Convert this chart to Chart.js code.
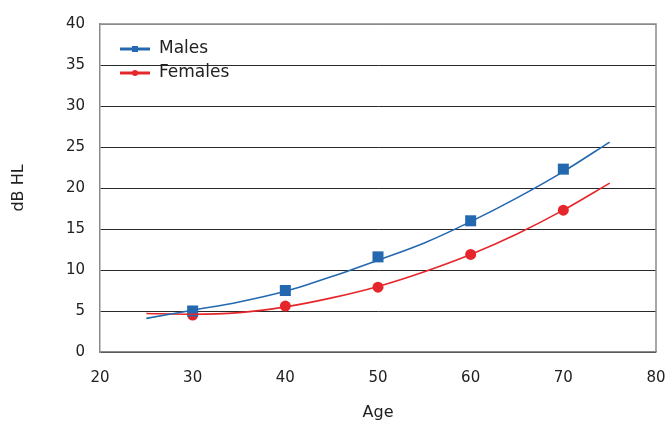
<!DOCTYPE html>
<html>
<head>
<meta charset="utf-8">
<script src="https://cdn.jsdelivr.net/npm/chart.js@4"></script>
<style>
  body { margin: 0; background: #fff; }
  #wrap { width: 671px; height: 433px; }
</style>
</head>
<body>
<div id="wrap"><canvas id="hearingChart" width="671" height="433"></canvas></div>
<script>
// measured points
const ages = [30, 40, 50, 60, 70];
const malesData = [5.0, 7.5, 11.6, 16.0, 22.3];
const femalesData = [4.5, 5.6, 7.9, 11.9, 17.3];

// fitted curves
const fitAges = [25, 30, 35, 40, 45, 50, 55, 60, 65, 70, 75];
const malesFit = [4.1, 5.1, 6.1, 7.4, 9.2, 11.2, 13.3, 15.9, 18.8, 22.0, 25.6];
const femalesFit = [4.7, 4.6, 4.8, 5.5, 6.6, 8.0, 9.8, 11.9, 14.4, 17.3, 20.6];

const yTicks = [0, 5, 10, 15, 20, 25, 30, 35, 40];
const xTicks = [20, 30, 40, 50, 60, 70, 80];

const BLUE = '#2468b0';
const RED = '#e5262b';
const FONT = "'DejaVu Sans', sans-serif";

const toXY = (xs, ys) => xs.map((x, i) => ({ x: x, y: ys[i] }));

// gray frame on top and right of the plot area
const framePlugin = {
    id: 'frame',
    afterDraw(chart) {
        const { ctx, chartArea: a } = chart;
        ctx.save();
        ctx.strokeStyle = '#8a8a8a';
        ctx.lineWidth = 1.5;
        ctx.beginPath();
        ctx.moveTo(a.left, a.top);
        ctx.lineTo(a.right, a.top);
        ctx.lineTo(a.right, a.bottom);
        ctx.stroke();
        ctx.restore();
    }
};

// legend sitting inside the plot, top left
const insideLegend = {
    id: 'insideLegend',
    afterDraw(chart) {
        const ctx = chart.ctx;
        const items = [
            { label: 'Males', color: BLUE, shape: 'rect', y: 49 },
            { label: 'Females', color: RED, shape: 'circle', y: 73 }
        ];
        ctx.save();
        items.forEach(it => {
            ctx.strokeStyle = it.color;
            ctx.fillStyle = it.color;
            ctx.lineWidth = 3;
            ctx.beginPath();
            ctx.moveTo(120, it.y);
            ctx.lineTo(150, it.y);
            ctx.stroke();
            if (it.shape === 'rect') {
                ctx.fillRect(132, it.y - 3, 6, 6);
            } else {
                ctx.beginPath();
                ctx.arc(135, it.y, 3, 0, Math.PI * 2);
                ctx.fill();
            }
            ctx.fillStyle = '#222';
            ctx.font = '17px ' + FONT;
            ctx.textBaseline = 'middle';
            ctx.fillText(it.label, 159, it.y);
        });
        ctx.restore();
    }
};

new Chart(document.getElementById('hearingChart'), {
    type: 'scatter',
    data: {
        datasets: [
            {
                label: 'Males fit',
                data: toXY(fitAges, malesFit),
                showLine: true,
                borderColor: BLUE,
                borderWidth: 1.6,
                pointRadius: 0,
                tension: 0.4,
                cubicInterpolationMode: 'monotone'
            },
            {
                label: 'Females fit',
                data: toXY(fitAges, femalesFit),
                showLine: true,
                borderColor: RED,
                borderWidth: 1.6,
                pointRadius: 0,
                tension: 0.4,
                cubicInterpolationMode: 'monotone'
            },
            {
                label: 'Males',
                data: toXY(ages, malesData),
                pointStyle: 'rect',
                pointRadius: 7.8,
                backgroundColor: BLUE,
                borderColor: BLUE,
                borderWidth: 0
            },
            {
                label: 'Females',
                data: toXY(ages, femalesData),
                pointStyle: 'circle',
                pointRadius: 5.5,
                backgroundColor: RED,
                borderColor: RED,
                borderWidth: 0
            }
        ]
    },
    options: {
        responsive: false,
        animation: false,
        layout: { padding: { top: 22, right: 15, left: 0, bottom: 0 } },
        scales: {
            x: {
                type: 'linear',
                min: 20,
                max: 80,
                afterBuildTicks: scale => { scale.ticks = xTicks.map(v => ({ value: v })); },
                afterFit: scale => {
                    scale.height = 81;
                    scale.paddingLeft = 0;
                    scale.paddingRight = 0;
                },
                grid: { display: false, drawTicks: false },
                border: { display: true, color: '#8a8a8a', width: 1.5 },
                ticks: { color: '#222', font: { family: FONT, size: 15 }, padding: 17, maxRotation: 0 },
                title: {
                    display: true,
                    text: 'Age',
                    color: '#222',
                    font: { family: FONT, size: 16 },
                    padding: { top: 0, bottom: 11 }
                }
            },
            y: {
                min: 0,
                max: 40,
                afterBuildTicks: scale => { scale.ticks = yTicks.map(v => ({ value: v })); },
                afterFit: scale => { scale.width = 100; },
                grid: {
                    drawTicks: false,
                    color: ctx => ctx.tick && ctx.tick.value === 40 ? '#8a8a8a' : '#2a2a2a',
                    lineWidth: 1
                },
                border: { display: true, color: '#8a8a8a', width: 1.5 },
                ticks: { color: '#222', font: { family: FONT, size: 15 }, padding: 15 },
                title: {
                    display: true,
                    text: 'dB HL',
                    color: '#222',
                    font: { family: FONT, size: 16 },
                    padding: { top: 9, bottom: 0 }
                }
            }
        },
        plugins: {
            legend: { display: false },
            tooltip: { enabled: false }
        }
    },
    plugins: [framePlugin, insideLegend]
});
</script>
</body>
</html>
